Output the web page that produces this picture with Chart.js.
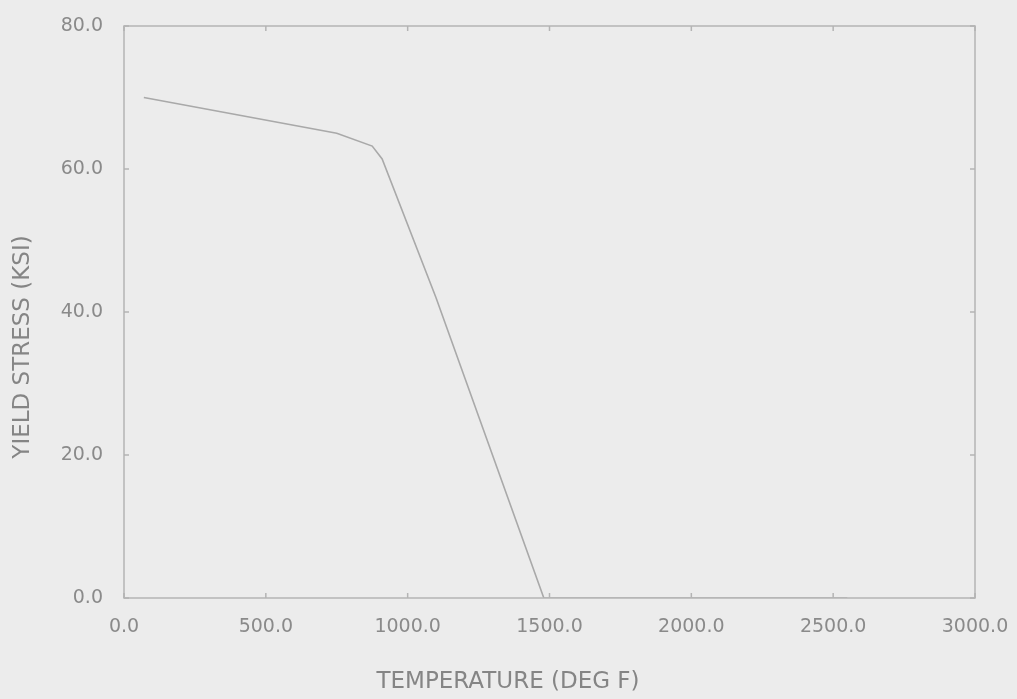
<!DOCTYPE html>
<html>
<head>
<meta charset="utf-8">
<script src="https://cdn.jsdelivr.net/npm/chart.js@4/dist/chart.umd.min.js"></script>
<style>
  html, body { margin: 0; padding: 0; background: #ececec; }
  canvas { display: block; }
</style>
</head>
<body>
<canvas id="c" width="1017" height="699"></canvas>
<script>
// Data
const temperatureF = [70, 750, 875, 910, 1100, 1480, 2550];
const yieldStressKsi = [70, 65, 63.2, 61.4, 42, 0, 0];
const xTickLabels = ["0.0", "500.0", "1000.0", "1500.0", "2000.0", "2500.0", "3000.0"];
const yTickLabels = ["0.0", "20.0", "40.0", "60.0", "80.0"];
const xTitle = "TEMPERATURE (DEG F)";
const yTitle = "YIELD STRESS (KSI)";

const textColor = "#8a8a8a";
const frameColor = "#b4b4b4";
const fontFamily = "'DejaVu Sans', sans-serif";

const points = temperatureF.map((t, i) => ({ x: t, y: yieldStressKsi[i] }));

const framePlugin = {
  id: "frame",
  afterDraw(chart) {
    const ctx = chart.ctx;
    const a = chart.chartArea;
    const xs = chart.scales.x, ys = chart.scales.y;
    ctx.save();
    ctx.strokeStyle = frameColor;
    ctx.lineWidth = 1.5;
    ctx.strokeRect(a.left, a.top, a.right - a.left, a.bottom - a.top);
    const tl = 5;
    ctx.beginPath();
    xs.ticks.forEach(t => {
      const px = xs.getPixelForValue(t.value);
      ctx.moveTo(px, a.bottom); ctx.lineTo(px, a.bottom - tl);
      ctx.moveTo(px, a.top); ctx.lineTo(px, a.top + tl);
    });
    ys.ticks.forEach(t => {
      const py = ys.getPixelForValue(t.value);
      ctx.moveTo(a.left, py); ctx.lineTo(a.left + tl, py);
      ctx.moveTo(a.right, py); ctx.lineTo(a.right - tl, py);
    });
    ctx.stroke();
    // axis titles
    ctx.fillStyle = "#858585";
    ctx.font = "23px " + fontFamily;
    ctx.textAlign = "center";
    ctx.textBaseline = "middle";
    ctx.fillText(xTitle, 508, 682);
    ctx.translate(23, 347);
    ctx.rotate(-Math.PI / 2);
    ctx.fillText(yTitle, 0, 0);
    ctx.restore();
  }
};

new Chart(document.getElementById("c"), {
  type: "line",
  data: {
    datasets: [{
      data: points,
      borderColor: "#a9a9a9",
      borderWidth: 1.6,
      pointRadius: 0,
      tension: 0,
      fill: false
    }]
  },
  options: {
    responsive: false,
    animation: false,
    devicePixelRatio: 1,
    layout: { padding: { top: 26, right: 42, left: 0, bottom: 0 } },
    plugins: { legend: { display: false }, tooltip: { enabled: false } },
    scales: {
      x: {
        type: "linear",
        min: 0, max: 3000,
        afterFit(s) { s.height = 101; s.paddingLeft = 0; s.paddingRight = 0; },
        grid: { display: false, drawTicks: false },
        border: { display: false },
        ticks: {
          stepSize: 500,
          padding: 18,
          maxRotation: 0,
          color: textColor,
          font: { family: fontFamily, size: 19 },
          callback: (v) => xTickLabels[Math.round(v / 500)]
        }
      },
      y: {
        type: "linear",
        min: 0, max: 80,
        afterFit(s) { s.width = 124; s.paddingTop = 0; s.paddingBottom = 0; },
        grid: { display: false, drawTicks: false },
        border: { display: false },
        ticks: {
          stepSize: 20,
          padding: 21,
          color: textColor,
          font: { family: fontFamily, size: 19 },
          callback: (v) => yTickLabels[Math.round(v / 20)]
        }
      }
    }
  },
  plugins: [framePlugin]
});
</script>
</body>
</html>
